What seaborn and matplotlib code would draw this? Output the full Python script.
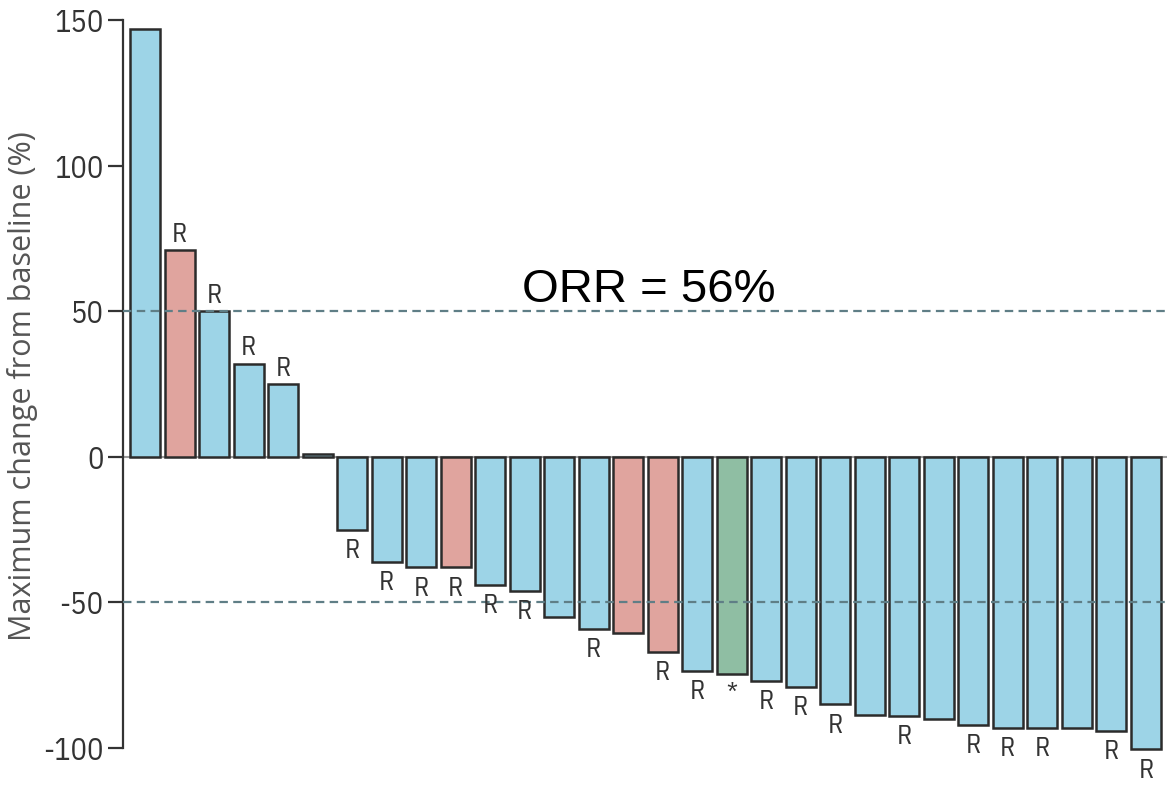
import numpy as np
import pandas as pd
import matplotlib
matplotlib.use("Agg")
import matplotlib.pyplot as plt
import seaborn as sns

# Maximum change from baseline (%) per patient, sorted
change = [147, 71, 50, 32, 25, 1, -25, -36, -38, -38, -44, -46, -55, -59, -60.5,
          -67, -73.5, -74.5, -77, -79, -85, -88.5, -89, -90, -92, -93, -93, -93,
          -94, -100.5]
# bar colour group
group = ["blue", "pink", "blue", "blue", "blue", "blue", "blue", "blue", "blue", "pink",
         "blue", "blue", "blue", "blue", "pink", "pink", "blue", "green", "blue", "blue",
         "blue", "blue", "blue", "blue", "blue", "blue", "blue", "blue", "blue", "blue"]
# annotation under / over each bar
marks = ["", "R", "R", "R", "R", "", "R", "R", "R", "R", "R", "R", "", "R", "",
         "R", "R", "*", "R", "R", "R", "", "R", "", "R", "R", "R", "", "R", "R"]

ref_lines = [50, -50]
orr_text = "ORR = 56%"

df = pd.DataFrame({"patient": np.arange(len(change)), "change": change, "group": group})

sns.set_style("white")
plt.rcParams["font.family"] = ["DejaVu Sans"]

fig = plt.figure(figsize=(11.67, 7.85), dpi=100)
ax = fig.add_axes([123 / 1167, 37 / 785, 1 - 123 / 1167, 728 / 785])

palette = {"blue": "#9dd4e7", "pink": "#e0a49e", "green": "#8fbea3"}
sns.barplot(data=df, x="patient", y="change", hue="group", palette=palette,
            dodge=False, width=0.87, edgecolor="#2b2b2b", linewidth=1.8,
            saturation=1, legend=False, ax=ax)
for p in ax.patches:
    p.set_clip_on(False)
    p.set_zorder(2)

ax.axhline(0, color="#9a9a9a", lw=1.5, zorder=1)
for y in ref_lines:
    ax.axhline(y, color="#5f7e86", lw=1.6, ls=(0, (3.8, 2.4)), zorder=3)

narrow = ["IBM Plex Sans Condensed", "DejaVu Sans"]
for i, (v, m) in enumerate(zip(change, marks)):
    if not m:
        continue
    if v >= 0:
        ax.annotate(m, (i, v), xytext=(0, 6), textcoords="offset points",
                    ha="center", va="baseline", fontsize=19, color="#333333",
                    family=narrow, annotation_clip=False)
    else:
        ax.annotate(m, (i, v), xytext=(0, -6), textcoords="offset points",
                    ha="center", va="top", fontsize=19, color="#333333",
                    family=narrow, annotation_clip=False)

ax.text(14.58, 53, orr_text, ha="center", va="baseline", fontsize=34,
        family=["Liberation Sans", "DejaVu Sans"], color="black")

ax.set_xlim(-0.64, 29.61)
ax.set_ylim(-100, 150)
ax.set_yticks([-100, -50, 0, 50, 100, 150])
ax.set_yticklabels(["-100", "-50", "0", "50", "100", "150"], family=narrow,
                   fontsize=22, color="#333333")
ax.set_xticks([])
ax.set_xlabel("")
ax.set_ylabel("Maximum change from baseline (%)", fontsize=22, color="#555555",
              family=["Open Sans", "DejaVu Sans"])
ax.yaxis.label.set_va("center")
ax.yaxis.set_label_coords(-0.0967, 0.497)

for s in ["top", "right", "bottom"]:
    ax.spines[s].set_visible(False)
ax.spines["left"].set_color("#333333")
ax.spines["left"].set_linewidth(1.6)
ax.tick_params(axis="y", left=True, direction="out", length=11, width=1.6,
               color="#333333", pad=3)

fig.savefig("out.png", dpi=100)
